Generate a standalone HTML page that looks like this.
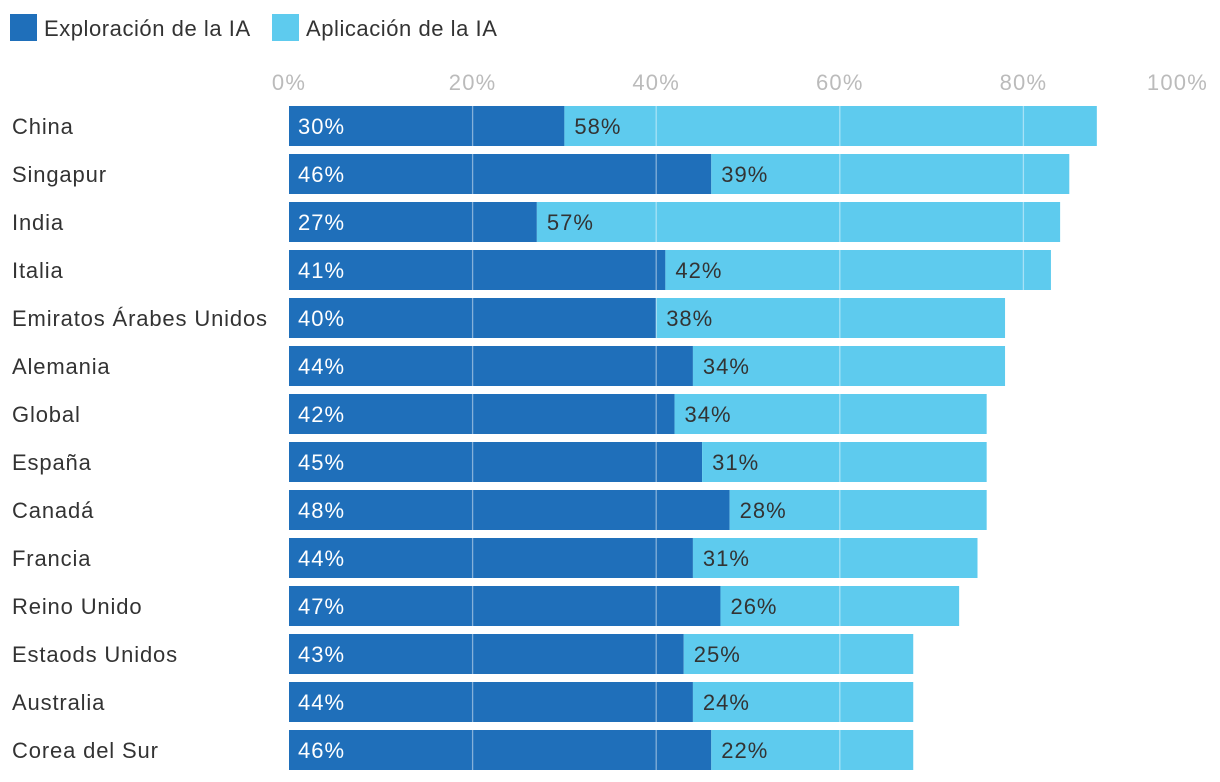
<!DOCTYPE html>
<html><head><meta charset="utf-8"><style>
body{margin:0;background:#fff;font-family:"Liberation Sans",sans-serif;}
svg{display:block}
</style></head><body>
<svg id="chart" width="1220" height="782">
<g>
<rect x="10" y="14" width="27" height="27" fill="#1f6fba"/>
<text x="44" y="36" font-size="22" letter-spacing="0.55" fill="#333">Exploración de la IA</text>
<rect x="272" y="14" width="27" height="27" fill="#5ecbee"/>
<text x="306" y="36" font-size="22" letter-spacing="0.55" fill="#333">Aplicación de la IA</text>
</g>
<g id="ticks"></g><g id="bars"></g><g id="grid"></g><g id="labels"></g>
</svg>
<script>
const categories=["China","Singapur","India","Italia","Emiratos Árabes Unidos","Alemania","Global","España","Canadá","Francia","Reino Unido","Estaods Unidos","Australia","Corea del Sur"];
const exploracion=[30,46,27,41,40,44,42,45,48,44,47,43,44,46];
const aplicacion=[58,39,57,42,38,34,34,31,28,31,26,25,24,22];
const tickValues=[0,20,40,60,80,100];
const NS="http://www.w3.org/2000/svg";
const x0=289,pxPer=9.18,top0=106,pitch=48,bh=40;
const xs=v=>x0+v*pxPer;
const ys=i=>top0+i*pitch;
function mk(tag,attrs,parent){const e=document.createElementNS(NS,tag);for(const k in attrs)e.setAttribute(k,attrs[k]);parent.appendChild(e);return e;}
const T=document.getElementById('ticks'),B=document.getElementById('bars'),G=document.getElementById('grid'),L=document.getElementById('labels');
tickValues.forEach(v=>{
 const last=v===100;
 const t=mk('text',{x:last?1208:xs(v),y:90,'font-size':22,'letter-spacing':1.2,fill:'#bbb','text-anchor':last?'end':'middle'},T);
 
 
 t.textContent=v+'%';
 if(v>0&&v<100){const g=mk('line',{x1:xs(v),x2:xs(v),y1:100,y2:776,stroke:'rgba(255,255,255,0.45)','stroke-width':1.3},G);
 
 }
});
categories.forEach((c,i)=>{
 const y=ys(i),e=exploracion[i],a=aplicacion[i];
 const cl=mk('text',{x:12,y:y+28,'font-size':22,'letter-spacing':0.85,fill:'#333'},L);
 
 
 cl.textContent=c;
 const r1=mk('rect',{x:xs(0),y:y,width:xs(e)-xs(0),height:bh,fill:'#1f6fba'},B);
 
 
 const r2=mk('rect',{x:xs(e),y:y,width:xs(e+a)-xs(e),height:bh,fill:'#5ecbee'},B);
 
 
 const l1=mk('text',{x:xs(0)+9,y:y+28,'font-size':22,'letter-spacing':1,fill:'#fff'},L);
 
 
 l1.textContent=e+'%';
 const l2=mk('text',{x:xs(e)+10,y:y+28,'font-size':22,'letter-spacing':1,fill:'#333'},L);
 
 
 l2.textContent=a+'%';
});
</script>
</body></html>
